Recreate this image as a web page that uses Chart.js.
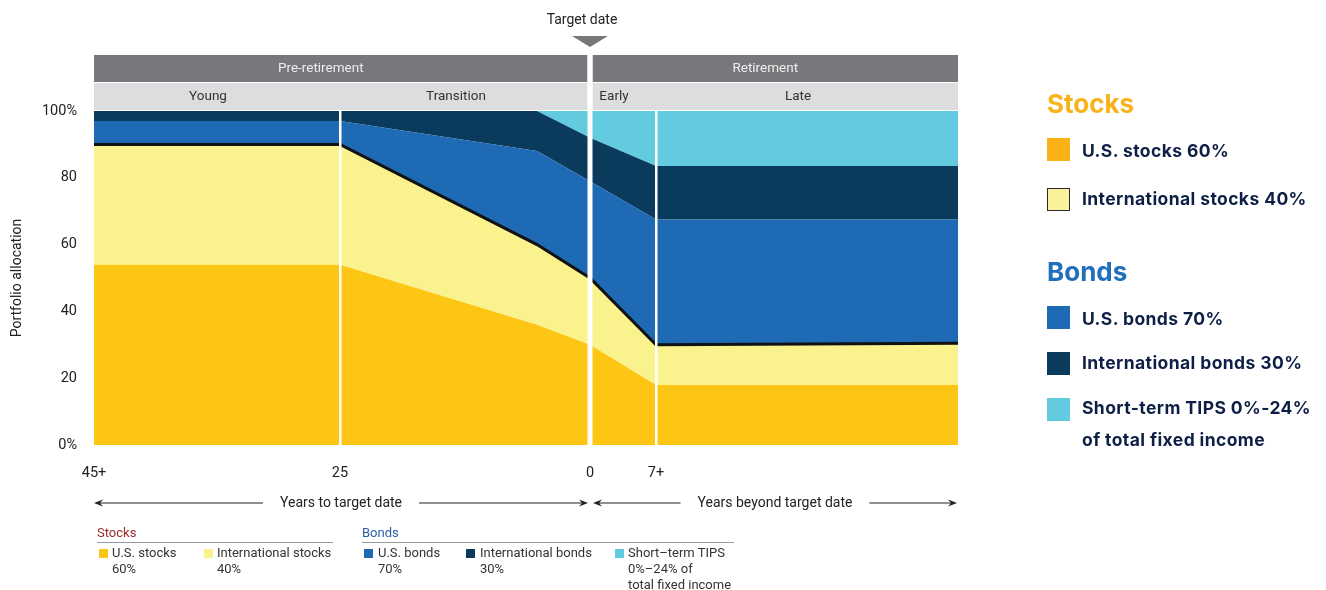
<!DOCTYPE html>
<html>
<head>
<meta charset="utf-8">
<script src="https://cdn.jsdelivr.net/npm/chart.js@4/dist/chart.umd.min.js"></script>
<style>
  body { margin: 0; background: #fff; }
  #wrap { position: relative; width: 1326px; height: 590px; font-family: Roboto, "Liberation Sans", sans-serif; }
  #chart { position: absolute; left: 0; top: 0; }
  .abs { position: absolute; white-space: nowrap; }
  .sm { font-size: 13px; color: #333; line-height: 16px; }
  .sw { position: absolute; width: 9px; height: 9px; }
  .rl { font-family: Inter, "Noto Sans", sans-serif; font-weight: 700; color: #0e1f46; font-size: 17.5px; letter-spacing: 0.4px; }
  .rh { font-family: Inter, "Noto Sans", sans-serif; font-weight: 700; font-size: 26px; }
  .rsw { position: absolute; width: 23px; height: 23px; box-sizing: border-box; }
</style>
</head>
<body>
<div id="wrap">
  <canvas id="chart" width="1326" height="590"></canvas>

  <!-- small legend under the chart -->
  <div class="abs sm" style="left:97px;top:525px;color:#9b2a2a;">Stocks</div>
  <div class="abs" style="left:97px;top:542px;width:236px;height:1px;background:#9a9a9a;"></div>
  <div class="sw" style="left:99px;top:549px;background:#fdc614;"></div>
  <div class="abs sm" style="left:112px;top:545px;">U.S. stocks<br>60%</div>
  <div class="sw" style="left:204px;top:549px;background:#f9f28d;"></div>
  <div class="abs sm" style="left:217px;top:545px;">International stocks<br>40%</div>

  <div class="abs sm" style="left:362px;top:525px;color:#2b5ea8;">Bonds</div>
  <div class="abs" style="left:362px;top:542px;width:372px;height:1px;background:#9a9a9a;"></div>
  <div class="sw" style="left:364px;top:549px;background:#1e6ab5;"></div>
  <div class="abs sm" style="left:378px;top:545px;">U.S. bonds<br>70%</div>
  <div class="sw" style="left:466px;top:549px;background:#0a3a5c;"></div>
  <div class="abs sm" style="left:480px;top:545px;">International bonds<br>30%</div>
  <div class="sw" style="left:615px;top:549px;background:#62cbe0;"></div>
  <div class="abs sm" style="left:628px;top:545px;">Short–term TIPS<br>0%–24% of<br>total fixed income</div>

  <!-- legend on the right -->
  <div class="abs rh" style="left:1047px;top:88px;color:#f9b21a;">Stocks</div>
  <div class="rsw" style="left:1047px;top:138px;background:#fbb217;"></div>
  <div class="abs rl" style="left:1082px;top:140px;">U.S. stocks 60%</div>
  <div class="rsw" style="left:1047px;top:188px;background:#f9f29a;border:1.5px solid #2a2a2a;"></div>
  <div class="abs rl" style="left:1082px;top:188px;">International stocks 40%</div>

  <div class="abs rh" style="left:1047px;top:256px;color:#1f6fbd;">Bonds</div>
  <div class="rsw" style="left:1047px;top:306px;background:#1e6ab5;"></div>
  <div class="abs rl" style="left:1082px;top:308px;">U.S. bonds 70%</div>
  <div class="rsw" style="left:1047px;top:352px;background:#0a3a5c;"></div>
  <div class="abs rl" style="left:1082px;top:352px;">International bonds 30%</div>
  <div class="rsw" style="left:1047px;top:398px;background:#62cbe0;"></div>
  <div class="abs rl" style="left:1082px;top:392px;line-height:32px;">Short-term TIPS 0%-24%<br>of total fixed income</div>
</div>

<script>
// x is a position along the glide path: 45+ years out ... 7+ years after
const xStops = [0, 24.6, 44.3, 49.6, 56.2, 86.4];
const usStocks = [54, 54, 36, 30, 18, 18];
const intlStocks = [36, 36, 24, 20, 12, 12.5];
const usBonds = [7, 7, 28, 29, 37.5, 37];
const intlBonds = [3, 3, 12, 13, 16, 16];
const tips = [0, 0, 0, 8, 16.5, 16.5];

const yTicks = [0, 20, 40, 60, 80, 100];
const yTickLabels = ["0%", "20", "40", "60", "80", "100%"];
const xTicks = [0, 24.6, 49.6, 56.2];
const xTickLabels = ["45+", "25", "0", "7+"];

// label, from, to, label shift
const phases = [["Pre-retirement", 0, 49.6, -20], ["Retirement", 49.6, 86.4, -10]];
const subPhases = [["Young", 0, 24.6], ["Transition", 24.6, 49.6], ["Early", 49.6, 56.2], ["Late", 56.2, 86.4]];
const targetDate = 49.6;
const dividers = [24.6, 56.2];
const spans = [["Years to target date", 0, 49.6], ["Years beyond target date", 49.6, 86.4]];

const series = [
  { label: "U.S. stocks", data: usStocks, color: "#fdc614" },
  { label: "International stocks", data: intlStocks, color: "#f9f28d", line: "#111" },
  { label: "U.S. bonds", data: usBonds, color: "#1e6ab5" },
  { label: "International bonds", data: intlBonds, color: "#0a3a5c" },
  { label: "Short-term TIPS", data: tips, color: "#62cbe0" },
];

const FONT = "Roboto, 'Liberation Sans', sans-serif";

const decor = {
  id: "decor",
  beforeDraw(chart) {
    const { ctx, chartArea: a, scales: { x } } = chart;
    ctx.save();
    const gap = 2.5;
    // phase bands
    phases.forEach(([t, f, to, shift], i) => {
      const l = x.getPixelForValue(f) + (i > 0 ? gap : 0);
      const r = x.getPixelForValue(to) - (i === 0 ? gap : 0);
      ctx.fillStyle = "#77787b";
      ctx.fillRect(l, a.top - 56, r - l, 27);
      ctx.fillStyle = "#dcdddf";
      ctx.fillRect(l, a.top - 28, r - l, 27);
      ctx.fillStyle = "#eeeeee";
      ctx.font = "13.5px " + FONT;
      ctx.textAlign = "center";
      ctx.textBaseline = "middle";
      ctx.fillText(t, (l + r) / 2 + shift, a.top - 42);
    });
    subPhases.forEach(([t, f, to]) => {
      const c = (x.getPixelForValue(f) + x.getPixelForValue(to)) / 2 - 9;
      ctx.fillStyle = "#333";
      ctx.font = "13.5px " + FONT;
      ctx.textAlign = "center";
      ctx.textBaseline = "middle";
      ctx.fillText(t, c, a.top - 14);
    });
    // target date marker
    const tx = x.getPixelForValue(targetDate);
    ctx.fillStyle = "#222";
    ctx.font = "14px " + FONT;
    ctx.textAlign = "center";
    ctx.fillText("Target date", tx - 8, 20);
    ctx.fillStyle = "#77787b";
    ctx.beginPath();
    ctx.moveTo(tx - 18, 36);
    ctx.lineTo(tx + 18, 36);
    ctx.lineTo(tx, 47);
    ctx.closePath();
    ctx.fill();
    ctx.restore();
  },
  afterDraw(chart) {
    const { ctx, chartArea: a, scales: { x } } = chart;
    ctx.save();
    ctx.fillStyle = "#fff";
    dividers.forEach(v => {
      const p = x.getPixelForValue(v);
      ctx.fillRect(p - 1, a.top, 2.5, a.bottom - a.top);
    });
    const tp = x.getPixelForValue(targetDate);
    ctx.fillRect(tp - 2.5, a.top - 56, 5, a.bottom - a.top + 56);

    // arrows under the axis
    const y = 503;
    ctx.strokeStyle = "#222";
    ctx.fillStyle = "#222";
    ctx.lineWidth = 1;
    ctx.font = "14px " + FONT;
    ctx.textAlign = "center";
    ctx.textBaseline = "middle";
    const head = (px, dir) => {
      ctx.beginPath();
      ctx.moveTo(px, y);
      ctx.lineTo(px - dir * 9, y - 3.5);
      ctx.lineTo(px - dir * 6, y);
      ctx.lineTo(px - dir * 9, y + 3.5);
      ctx.closePath();
      ctx.fill();
    };
    spans.forEach(([t, f, to], i) => {
      const l = x.getPixelForValue(f) + (i > 0 ? 3 : 0);
      const r = x.getPixelForValue(to) - (i === 0 ? 2 : 1);
      const c = (l + r) / 2;
      const w = ctx.measureText(t).width;
      ctx.fillText(t, c, y);
      ctx.beginPath();
      ctx.moveTo(l + 4, y);
      ctx.lineTo(c - w / 2 - 17, y);
      ctx.moveTo(c + w / 2 + 17, y);
      ctx.lineTo(r - 4, y);
      ctx.stroke();
      head(l, -1);
      head(r, 1);
    });
    ctx.restore();
  },
};

new Chart(document.getElementById("chart"), {
  type: "line",
  data: {
    datasets: series.map((s, i) => ({
      label: s.label,
      data: xStops.map((xv, j) => ({ x: xv, y: s.data[j] })),
      backgroundColor: s.color,
      borderColor: s.line || s.color,
      borderWidth: s.line ? 3 : 0,
      fill: i === 0 ? "origin" : "-1",
      pointRadius: 0,
      tension: 0,
    })),
  },
  options: {
    responsive: false,
    animation: false,
    devicePixelRatio: 1,
    layout: { padding: { left: 0, top: 111, right: 368, bottom: 0 } },
    plugins: { legend: { display: false }, tooltip: { enabled: false } },
    scales: {
      x: {
        type: "linear",
        min: 0,
        max: 86.4,
        grid: { display: false, drawTicks: false },
        border: { display: false },
        afterFit: s => { s.height = 145; },
        afterBuildTicks: s => { s.ticks = xTicks.map(v => ({ value: v })); },
        ticks: {
          padding: 20,
          color: "#222",
          font: { size: 14.5, family: FONT },
          maxRotation: 0,
          autoSkip: false,
          callback: v => xTickLabels[xTicks.indexOf(v)],
        },
      },
      y: {
        stacked: true,
        min: 0,
        max: 100,
        grid: { display: false, drawTicks: false },
        border: { display: false },
        afterFit: s => { s.width = 94; },
        afterBuildTicks: s => { s.ticks = yTicks.map(v => ({ value: v })); },
        title: {
          display: true,
          text: "Portfolio allocation",
          color: "#222",
          font: { size: 14, family: FONT },
          padding: { top: 9, bottom: 0 },
        },
        ticks: {
          padding: 17,
          color: "#222",
          font: { size: 14.5, family: FONT },
          callback: v => yTickLabels[yTicks.indexOf(v)],
        },
      },
    },
  },
  plugins: [decor],
});
</script>
</body>
</html>
